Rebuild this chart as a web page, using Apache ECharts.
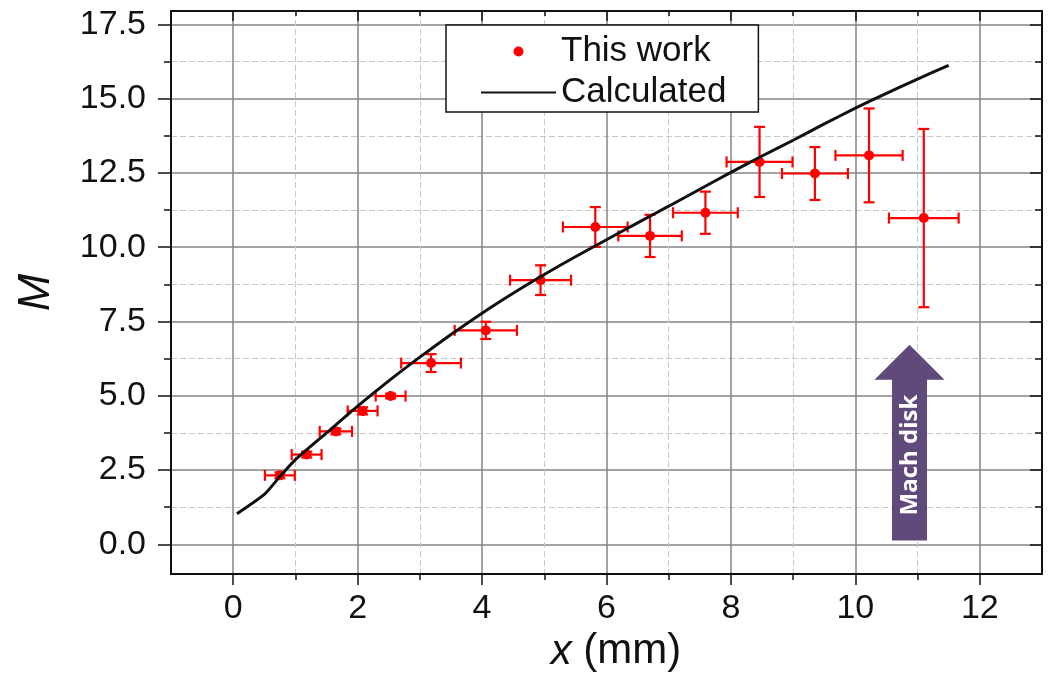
<!DOCTYPE html>
<html>
<head>
<meta charset="utf-8">
<script src="https://cdn.jsdelivr.net/npm/echarts@6/dist/echarts.min.js"></script>
<style>
    html, body { margin: 0; padding: 0; background: #fff; }
    #chart { width: 1050px; height: 678px; }
</style>
</head>
<body>
<div id="chart"></div>
<script>
// measured Mach numbers along the jet axis (x in mm) with error bars
const measX = [0.75, 1.18, 1.65, 2.08, 2.53, 3.18, 4.06, 4.94, 5.82, 6.70, 7.59, 8.46, 9.35, 10.22, 11.10];
const measM = [2.32, 3.02, 3.80, 4.49, 4.99, 6.10, 7.20, 8.89, 10.68, 10.38, 11.16, 12.87, 12.48, 13.09, 10.98];
const errX = [0.24, 0.24, 0.26, 0.24, 0.24, 0.48, 0.50, 0.49, 0.52, 0.51, 0.52, 0.53, 0.53, 0.54, 0.56];
const errM = [0.10, 0.10, 0.10, 0.12, 0.08, 0.30, 0.29, 0.50, 0.67, 0.71, 0.71, 1.18, 0.89, 1.58, 3.00];

// calculated curve
const calcX = [0.06, 0.5, 0.75, 1.0, 1.5, 2.0, 2.5, 3.0, 3.5, 4.0, 4.5, 5.0, 5.5, 6.0, 6.5, 7.0, 7.5, 8.0, 8.5, 9.0, 9.5, 10.0, 10.5, 11.0, 11.5];
const calcM = [1.03, 1.68, 2.28, 2.85, 3.75, 4.65, 5.50, 6.30, 7.06, 7.78, 8.45, 9.08, 9.68, 10.25, 10.82, 11.38, 11.95, 12.52, 13.07, 13.60, 14.15, 14.68, 15.18, 15.66, 16.12];

// ticks
const xMajor = [0, 2, 4, 6, 8, 10, 12];
const xMinor = [1, 3, 5, 7, 9, 11];
const yMajor = [0, 2.5, 5, 7.5, 10, 12.5, 15, 17.5];
const yMinor = [1.25, 3.75, 6.25, 8.75, 11.25, 13.75, 16.25];

// "Mach disk" arrow annotation (data coords)
const arrowX = 10.87;
const arrowTipM = 6.72;
const arrowBaseM = 0.13;

const FONT = 'Liberation Sans';
const INK = '#111';

const chart = echarts.init(document.getElementById('chart'), null, { renderer: 'canvas' });

const X_MIN = -1, X_MAX = 13, Y_MIN = -1, Y_MAX = 17.95;

function tickAxis(position, ticks, len, inside, extra) {
    const isX = position === 'top' || position === 'bottom';
    return Object.assign({
        type: 'value',
        position: position,
        min: isX ? X_MIN : Y_MIN,
        max: isX ? X_MAX : Y_MAX,
        axisLine: { show: true, onZero: false, lineStyle: { color: INK, width: 2 } },
        axisTick: { show: true, customValues: ticks, length: len, inside: inside, lineStyle: { color: INK, width: 1.5 } },
        axisLabel: { show: false },
        splitLine: { show: false }
    }, extra || {});
}

const dashed = { show: true, lineStyle: { color: '#c8c8c8', width: 1, type: [6, 3] } };
const solid = { show: true, lineStyle: { color: '#858585', width: 1.5 } };

const xAxes = [
    tickAxis('bottom', xMajor, 11, false, {
        splitLine: solid,
        axisLabel: { show: true, customValues: xMajor, margin: 18, color: INK, fontSize: 34, fontFamily: FONT },
        name: '{i|x} (mm)',
        nameLocation: 'middle',
        nameGap: 56,
        nameTextStyle: {
            color: INK, fontSize: 42, fontFamily: FONT, padding: [0, 0, 0, 19],
            rich: { i: { color: INK, fontSize: 42, fontFamily: FONT, fontStyle: 'italic' } }
        }
    }),
    tickAxis('bottom', xMinor, 6, false, { splitLine: dashed }),
    tickAxis('top', xMajor, 10, true),
    tickAxis('top', xMinor, 5, true)
];

const yAxes = [
    tickAxis('left', yMajor, 13, false, {
        splitLine: solid,
        axisLabel: {
            show: true, customValues: yMajor, margin: 25, color: INK, fontSize: 34, fontFamily: FONT,
            formatter: v => Number(v).toFixed(1)
        },
        name: 'M',
        nameLocation: 'middle',
        nameGap: 112,
        nameTextStyle: { color: INK, fontSize: 45, fontFamily: FONT, fontStyle: 'italic' }
    }),
    tickAxis('left', yMinor, 7, false, { splitLine: dashed }),
    tickAxis('right', yMajor, 12, true),
    tickAxis('right', yMinor, 7, true)
];

function renderErrorBar(params, api) {
    const x = api.value(0), y = api.value(1), ex = api.value(2), ey = api.value(3);
    const l = api.coord([x - ex, y]);
    const r = api.coord([x + ex, y]);
    const t = api.coord([x, y + ey]);
    const b = api.coord([x, y - ey]);
    const cap = 5.5;
    const style = { stroke: '#ff0000', lineWidth: 2.2, fill: null };
    const seg = (x1, y1, x2, y2) => ({ type: 'line', shape: { x1, y1, x2, y2 }, style });
    return {
        type: 'group',
        children: [
            seg(l[0], l[1], r[0], r[1]),
            seg(l[0], l[1] - cap, l[0], l[1] + cap),
            seg(r[0], r[1] - cap, r[0], r[1] + cap),
            seg(t[0], t[1], b[0], b[1]),
            seg(t[0] - cap, t[1], t[0] + cap, t[1]),
            seg(b[0] - cap, b[1], b[0] + cap, b[1])
        ]
    };
}

chart.setOption({
    animation: false,
    backgroundColor: '#fff',
    grid: { left: 171, right: 8, top: 11, bottom: 104 },
    xAxis: xAxes,
    yAxis: yAxes,
    legend: {
        data: [
            { name: 'This work' },
            { name: 'Calculated', itemStyle: { color: 'rgba(0,0,0,0)', borderWidth: 0 } }
        ],
        orient: 'vertical',
        left: 446,
        top: 25,
        backgroundColor: '#fff',
        borderColor: INK,
        borderWidth: 1.5,
        borderRadius: 0,
        padding: [8, 32, 1, 34],
        itemGap: 4,
        itemWidth: 75,
        itemHeight: 10,
        itemTextGap: 12,
        selectedMode: false,
        textStyle: { color: INK, fontSize: 35, fontFamily: FONT, lineHeight: 37 }
    },
    series: [
        {
            name: 'errors',
            type: 'custom',
            renderItem: renderErrorBar,
            data: measX.map((x, i) => [x, measM[i], errX[i], errM[i]]),
            z: 2
        },
        {
            name: 'This work',
            type: 'scatter',
            data: measX.map((x, i) => [x, measM[i]]),
            symbol: 'circle',
            symbolSize: 10,
            itemStyle: { color: '#ff0000', opacity: 1 },
            z: 3
        },
        {
            name: 'Calculated',
            type: 'line',
            data: calcX.map((x, i) => [x, calcM[i]]),
            symbol: 'none',
            smooth: 0.2,
            lineStyle: { color: INK, width: 3 },
            itemStyle: { color: INK },
            z: 4
        }
    ]
});

// arrow marking the Mach disk position
const tip = chart.convertToPixel({ seriesIndex: 1 }, [arrowX, arrowTipM]);
const base = chart.convertToPixel({ seriesIndex: 1 }, [arrowX, arrowBaseM]);
const head = 35, shaft = 17.5;
chart.setOption({
    graphic: [
        {
            type: 'polygon',
            shape: {
                points: [
                    [tip[0], tip[1]],
                    [tip[0] + head, tip[1] + head],
                    [tip[0] + shaft, tip[1] + head],
                    [tip[0] + shaft, base[1]],
                    [tip[0] - shaft, base[1]],
                    [tip[0] - shaft, tip[1] + head],
                    [tip[0] - head, tip[1] + head]
                ]
            },
            style: { fill: '#604a7b' },
            z: 10
        },
        {
            type: 'text',
            x: tip[0] + 1,
            y: (tip[1] + head + base[1]) / 2 - 5,
            rotation: Math.PI / 2,
            style: {
                text: 'Mach disk',
                fill: '#fff',
                font: 'bold 24px "Open Sans"',
                align: 'center',
                verticalAlign: 'middle'
            },
            z: 11
        }
    ]
});
</script>
</body>
</html>
